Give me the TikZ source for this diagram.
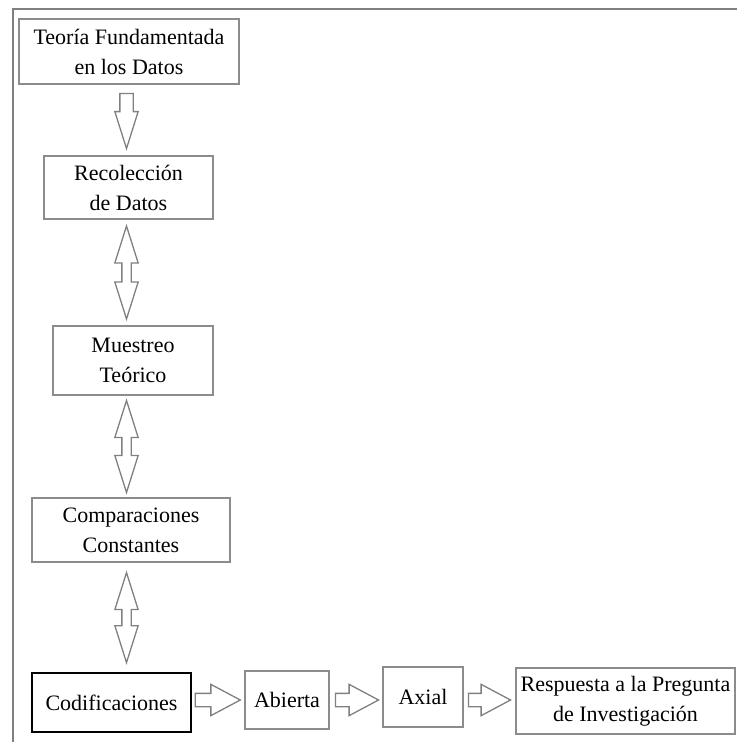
\documentclass[tikz,border=0pt]{standalone}
\usepackage{fontspec}
\setmainfont{Liberation Serif}
\usetikzlibrary{shapes.arrows,calc}
\tikzset{
    % Cajas del diagrama
    caja/.style={draw=gray!90, line width=1.8pt, align=center, inner sep=0pt, text=black, font=\fontsize{22}{30}\selectfont},
    cajanegra/.style={caja, draw=black, line width=1.3pt},
    % Flechas huecas
    flechabaja/.style={single arrow, draw=gray, line width=1.3pt, fill=white, inner xsep=0pt, inner ysep=6pt, single arrow head extend=5pt, single arrow tip angle=35, rotate=-90, anchor=tail},
    flechados/.style={double arrow, draw=gray, line width=1.3pt, fill=white, inner xsep=0pt, inner ysep=4pt, double arrow head extend=7pt, double arrow tip angle=35, rotate=90},
    flechader/.style={single arrow, draw=gray, line width=1.3pt, fill=white, inner xsep=0pt, inner ysep=6pt, single arrow head extend=9pt, single arrow tip angle=56, anchor=tail}
}
\begin{document}
\begin{tikzpicture}[x=1pt, y=-1pt]
    \useasboundingbox (0,0) rectangle (737,742);
    % Marco
    \draw[gray, line width=2.2pt] (13,742) -- (13,9) -- (737,9);
    
    % Columna de cajas
    \node[caja, minimum width=220, minimum height=65] (teoria) at (129, 51.5) {Teoría Fundamentada\\en los Datos};
    \node[caja, minimum width=169, minimum height=63] (recoleccion) at (128.5, 187.5) {Recolección\\de Datos};
    \node[caja, minimum width=160, minimum height=69] (muestreo) at (133, 360.5) {Muestreo\\Teórico};
    \node[caja, minimum width=198, minimum height=64] (comparaciones) at (131, 530) {Comparaciones\\Constantes};
    \node[cajanegra, minimum width=159, minimum height=59] (codificaciones) at (111.5, 702.5) {Codificaciones};
    
    % Fila de cajas
    \node[caja, minimum width=84, minimum height=58] (abierta) at (287, 700) {Abierta};
    \node[caja, minimum width=80, minimum height=60] (axial) at (423, 697) {Axial};
    \node[caja, minimum width=219, minimum height=66] (respuesta) at (625.5, 701) {Respuesta a la Pregunta\\de Investigación};
    
    % Ejes de las flechas
    \coordinate (eje) at (126.5, 0);
    \coordinate (fila) at (0, 700);
    
    % Flechas verticales
    \node[flechabaja, minimum height=55, minimum width=22] (f1) at ($(teoria.south -| eje)+(0,8)$) {};
    \node[flechados, minimum height=93, minimum width=22] (f2) at ($(recoleccion.south -| eje)!0.5!(muestreo.north -| eje)$) {};
    \node[flechados, minimum height=92, minimum width=22] (f3) at ($(muestreo.south -| eje)!0.5!(comparaciones.north -| eje)$) {};
    \node[flechados, minimum height=90, minimum width=22] (f4) at ($(comparaciones.south -| eje)!0.5!(codificaciones.north -| eje)$) {};
    
    % Flechas horizontales
    \node[flechader, minimum height=45, minimum width=30] (f5) at ($(codificaciones.east |- fila)+(3,0)$) {};
    \node[flechader, minimum height=43, minimum width=30] (f6) at ($(abierta.east |- fila)+(5,0)$) {};
    \node[flechader, minimum height=42, minimum width=30] (f7) at ($(axial.east |- fila)+(4,0)$) {};
\end{tikzpicture}
\end{document}
